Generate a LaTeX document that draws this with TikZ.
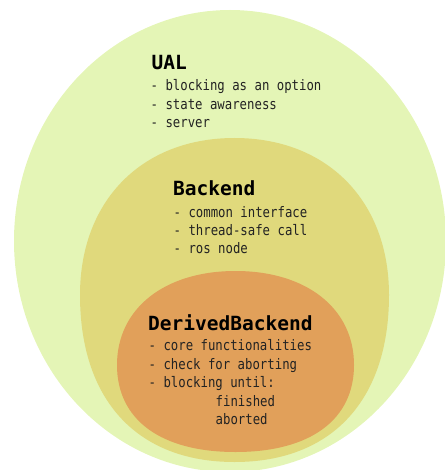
\documentclass[tikz,border=0pt]{standalone}
\usepackage{fontspec}
\newfontfamily\bodyfont[FakeStretch=0.85]{DejaVu Sans Mono}
\newfontfamily\titlefont{DejaVu Sans Mono}
\definecolor{outerc}{RGB}{228,245,182}
\definecolor{midc}{RGB}{224,217,124}
\definecolor{innerc}{RGB}{225,160,90}
\definecolor{bodytext}{RGB}{35,35,35}
\begin{document}
\begin{tikzpicture}[x=1pt,y=-1pt,
  bodyline/.style={anchor=base west, inner sep=0pt, text=bodytext,
    font=\bodyfont\fontsize{14.5}{16}\selectfont},
  titleline/.style={anchor=base west, inner sep=0pt, text=black,
    font=\titlefont\bfseries\fontsize{19.5}{22}\selectfont}]
\useasboundingbox (0,0) rectangle (444,470);
% outer region
\fill[outerc] (230,241) ellipse [x radius=216, y radius=231];
% middle region
\fill[midc] (389,295)
  .. controls (389,400.2) and (331.8,462) .. (234.5,462)
  .. controls (137.2,462) and (80,400.2) .. (80,295)
  .. controls (80,200.8) and (141.8,138) .. (234.5,138)
  .. controls (327.2,138) and (389,200.8) .. (389,295) -- cycle;
% inner region
\fill[innerc] (354,365)
  .. controls (354,419.8) and (310.2,452) .. (235.5,452)
  .. controls (160.8,452) and (117,419.8) .. (117,365)
  .. controls (117,308.6) and (164.4,271) .. (235.5,271)
  .. controls (306.6,271) and (354,308.6) .. (354,365) -- cycle;
% UAL
\node[titleline] (ual) at (151.5,70) {UAL};
\node[bodyline] (ual1) at (150.5,91) {- blocking as an option};
\node[bodyline] (ual2) at (150.5,109.5) {- state awareness};
\node[bodyline] (ual3) at (150.5,128) {- server};
% Backend
\node[titleline] (be) at (173,196) {Backend};
\node[bodyline] (be1) at (173.5,217) {- common interface};
\node[bodyline] (be2) at (173.5,235) {- thread-safe call};
\node[bodyline] (be3) at (173.5,253.5) {- ros node};
% DerivedBackend
\node[titleline] (db) at (148,330) {DerivedBackend};
\node[bodyline] (db1) at (148.5,350.5) {- core functionalities};
\node[bodyline] (db2) at (148.5,369) {- check for aborting};
\node[bodyline] (db3) at (148.5,387.5) {- blocking until:};
\node[bodyline] (db4) at (215.5,406) {finished};
\node[bodyline] (db5) at (215.5,424.5) {aborted};
\end{tikzpicture}
\end{document}
